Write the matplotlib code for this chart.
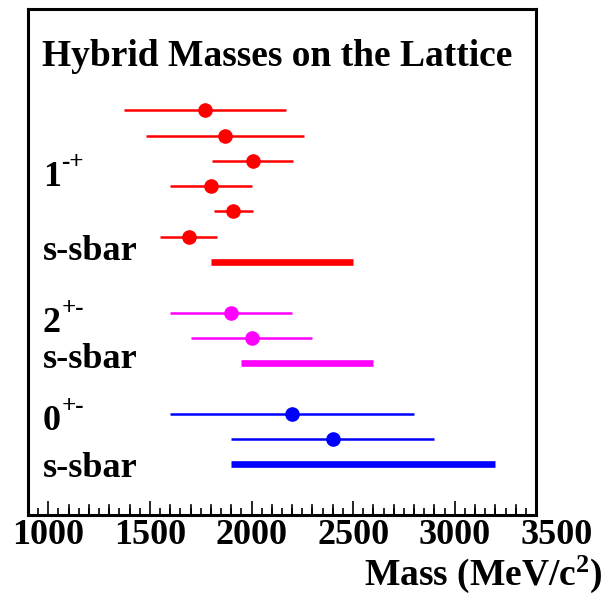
"""Lattice hybrid-meson mass predictions, drawn in a ROOT-like style."""
import numpy as np
import matplotlib
matplotlib.use("Agg")
import matplotlib.pyplot as plt
from matplotlib.ticker import MultipleLocator

plt.rcParams["font.family"] = ["Liberation Serif", "DejaVu Serif"]
plt.rcParams["font.weight"] = "bold"
plt.rcParams["mathtext.fontset"] = "custom"
plt.rcParams["mathtext.rm"] = "Liberation Serif:bold"
plt.rcParams["mathtext.default"] = "rm"

# --- data (MeV) ---
red_mass = [1770, 1870, 2005, 1800, 1910, 1690]
red_err = [400, 388, 200, 200, 95, 138]
red_row = [0, 1, 2, 3, 4, 5]
red_band = (1800, 2500)
red_band_row = 6

mag_mass = [1900, 2000]
mag_err = [300, 300]
mag_row = [8, 9]
mag_band = (1950, 2600)
mag_band_row = 10

blue_mass = [2200, 2400]
blue_err = [600, 500]
blue_row = [12, 13]
blue_band = (1900, 3200)
blue_band_row = 14

tick_vals = [1000, 1500, 2000, 2500, 3000, 3500]

W, H = 610, 594
fig = plt.figure(figsize=(W / 100, H / 100), dpi=100)
ax = fig.add_axes([28 / W, 1 - 515 / H, (536 - 28) / W, (515 - 9) / H])

groups = [
    (red_mass, red_err, red_row, red_band, red_band_row, "#FF0000"),
    (mag_mass, mag_err, mag_row, mag_band, mag_band_row, "#FF00FF"),
    (blue_mass, blue_err, blue_row, blue_band, blue_band_row, "#0000FF"),
]
for mass, err, row, band, brow, col in groups:
    ax.errorbar(mass, row, xerr=err, fmt="o", color=col, ms=9.5,
                elinewidth=1.8, capsize=0, mec=col)
    ax.plot(band, [brow, brow], color=col, lw=4.8, solid_capstyle="butt")

ax.set_xlim(900, 3400)
ax.set_ylim(16, -4)
ax.set_yticks([])
ax.xaxis.set_major_locator(MultipleLocator(500))
ax.xaxis.set_minor_locator(MultipleLocator(50))
ax.set_xticks([v for v in tick_vals if v <= 3400])
ax.set_xticklabels([str(v) for v in tick_vals if v <= 3400])
ax.tick_params(axis="x", which="major", direction="in", length=10,
               width=1.2, labelsize=26, pad=3, top=False)
ax.tick_params(axis="x", which="minor", direction="in", length=5,
               width=1.2, top=False)
# 100-level secondary ticks a bit taller than the 50-level ones
for v in range(1000, 3400, 100):
    if v % 500:
        ax.plot([v, v], [0, 10 / 506], color="k", lw=1.2,
                transform=ax.get_xaxis_transform(), clip_on=False)
for lab in ax.get_xticklabels():
    lab.set_fontweight("bold")
# label beyond the frame, as in the original
ax.annotate(str(tick_vals[-1]), xy=(tick_vals[-1], 0),
            xycoords=ax.get_xaxis_transform(), xytext=(0, -3),
            textcoords="offset points", ha="center", va="top",
            fontsize=26, fontweight="bold", annotation_clip=False)

for sp in ax.spines.values():
    sp.set_linewidth(2.2)

ax.text(0.028, -1.75, "Hybrid Masses on the Lattice", fontsize=27,
        fontweight="bold", transform=ax.get_yaxis_transform(),
        va="baseline")

labels = [("1", "-+", 3.0), ("s-sbar", None, 5.93), ("2", "+-", 8.77),
          ("s-sbar", None, 10.2), ("0", "+-", 12.65), ("s-sbar", None, 14.5)]
for txt, sup, yy in labels:
    t = ax.text(0.029, yy, txt, fontsize=26, fontweight="bold",
                transform=ax.get_yaxis_transform(), va="baseline")
    if sup:
        ax.annotate(sup, xy=(1, 1), xycoords=t, xytext=(0.5, -1),
                    textcoords="offset points", ha="left", va="center",
                    fontsize=18, fontweight="bold")

fig.text(603 / W, 1 - 585 / H, r"Mass (MeV/c$^2$)", fontsize=27,
         fontweight="bold", ha="right", va="baseline")

fig.savefig("out.png", dpi=100)
